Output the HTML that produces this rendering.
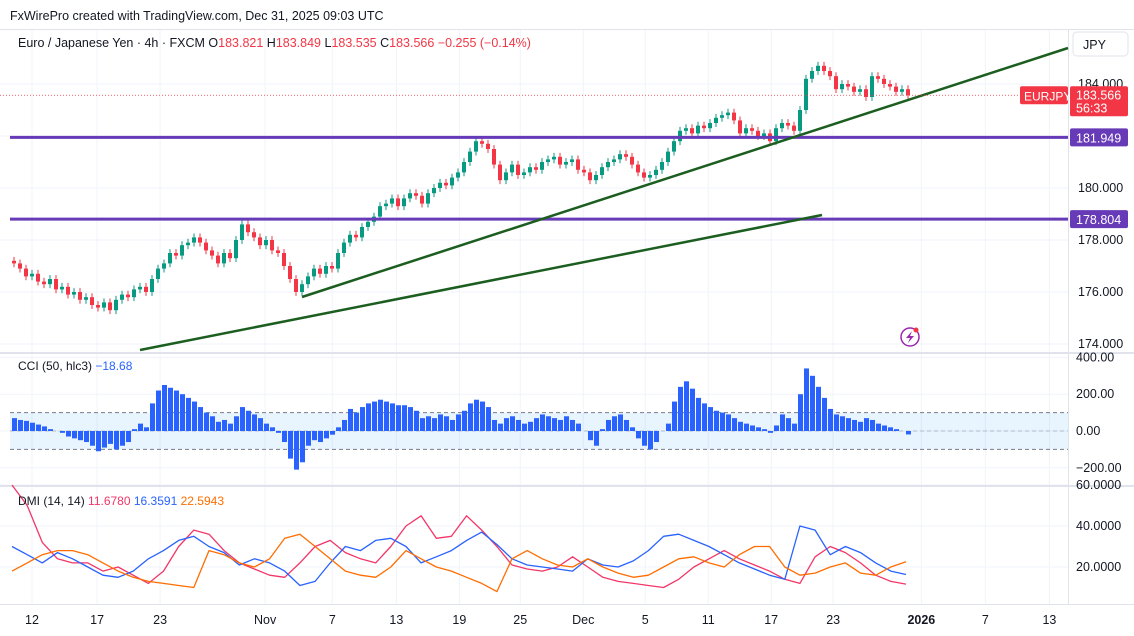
<!DOCTYPE html>
<html><head><meta charset="utf-8"><style>
body{margin:0;background:#fff;font-family:"Liberation Sans",sans-serif}
svg text{font-family:"Liberation Sans",sans-serif}
</style></head><body>
<svg id="c" width="1134" height="631" xmlns="http://www.w3.org/2000/svg">
<rect x="0" y="0" width="1134" height="631" fill="#fff"/>
<text x="10" y="20" font-size="12.5" fill="#131722">FxWirePro created with TradingView.com, Dec 31, 2025 09:03 UTC</text>
<rect x="0" y="29" width="1134" height="1" fill="#e0e3eb"/>
<g id="grid"></g>
<g id="main"></g>
<text x="18" y="47" font-size="12.5" fill="#131722">Euro / Japanese Yen · 4h · FXCM <tspan>O</tspan><tspan fill="#f23645">183.821</tspan> <tspan> H</tspan><tspan fill="#f23645">183.849</tspan> <tspan> L</tspan><tspan fill="#f23645">183.535</tspan> <tspan> C</tspan><tspan fill="#f23645">183.566</tspan><tspan fill="#f23645">  −0.255 (−0.14%)</tspan></text>
<text x="18" y="370" font-size="12" fill="#131722">CCI (50, hlc3) <tspan fill="#2962ff">−18.68</tspan></text>
<text x="18" y="505" font-size="12" fill="#131722">DMI (14, 14) <tspan fill="#f23668">11.6780</tspan> <tspan fill="#2962ff">16.3591</tspan> <tspan fill="#ff6d00">22.5943</tspan></text>
<rect x="1073" y="32" width="55" height="24" rx="4" fill="#fff" stroke="#e0e3eb"/>
<text x="1083" y="49" font-size="12.5" fill="#131722">JPY</text>
<g><circle cx="910" cy="337" r="9" fill="none" stroke="#9c27b0" stroke-width="1.5"/><path d="M912 331 L906 338 L910 338 L908 343 L914 336 L910 336 Z" fill="#9c27b0"/><circle cx="916" cy="330" r="2.5" fill="#f23645"/></g>
</svg>
<script>
const closes=[177.1,176.9,176.6,176.7,176.4,176.3,176.5,176.1,176.2,175.9,176.0,175.7,175.8,175.5,175.4,175.6,175.3,175.7,175.9,175.8,176.1,176.2,176.0,176.5,176.9,177.1,177.5,177.4,177.8,177.9,178.1,177.9,177.6,177.4,177.1,177.5,177.3,178.0,178.6,178.3,178.1,177.8,178.0,177.6,177.5,177.0,176.5,176.0,176.3,176.6,176.9,176.7,177.0,176.9,177.5,177.9,178.2,178.1,178.5,178.7,178.9,179.3,179.4,179.6,179.3,179.6,179.8,179.7,179.4,179.8,180.0,180.2,180.1,180.4,180.6,181.0,181.4,181.8,181.7,181.5,180.9,180.3,180.6,180.9,180.5,180.6,180.8,180.7,181.0,181.1,181.2,180.9,181.0,181.1,180.7,180.6,180.3,180.5,180.8,181.0,181.1,181.3,181.2,180.9,180.6,180.4,180.5,180.7,181.0,181.4,181.8,182.2,182.3,182.1,182.4,182.3,182.5,182.7,182.8,182.9,182.6,182.1,182.3,182.2,182.0,182.1,181.8,182.3,182.5,182.4,182.2,183.0,184.2,184.5,184.7,184.5,184.3,183.8,184.0,183.9,183.7,183.8,183.5,184.3,184.2,184.0,183.9,183.7,183.8,183.566];
const cci=[70,60,55,45,35,25,10,0,-10,-30,-40,-50,-60,-80,-110,-90,-70,-100,-80,-60,10,40,20,150,220,250,235,220,200,180,160,130,100,80,50,60,40,80,130,110,90,70,40,20,-10,-60,-150,-210,-170,-80,-50,-60,-40,-20,20,60,120,100,130,150,160,170,160,150,140,140,130,110,70,80,70,90,80,60,90,110,150,170,160,130,60,40,70,80,60,40,50,70,90,80,70,60,80,60,40,0,-50,-80,10,60,80,90,60,20,-40,-80,-100,-60,0,40,160,240,270,230,180,150,130,110,100,90,70,50,40,30,20,10,-10,30,90,70,40,200,340,300,240,180,120,90,80,70,60,50,70,60,40,30,20,10,0,-18.68];
const diMinus=[60,50,32,24,22,22,18,20,16,12,18,30,38,36,28,22,19,16,15,22,30,33,27,24,22,30,40,45,34,35,45,38,30,21,19,18,20,25,20,15,13,12,11,10,14,20,24,28,24,21,18,14,12,25,30,27,22,16,13,11.678];
const diPlus=[30,26,22,27,24,20,16,15,18,24,28,33,35,30,27,21,24,22,18,11,13,22,30,28,33,34,30,22,25,28,33,37,31,24,21,20,19,18,24,21,20,23,28,35,36,33,30,26,22,19,16,14,40,38,26,30,27,22,18,16.359];
const adx=[18,22,26,28,28,26,22,18,15,13,12,11,10,28,26,22,20,24,34,36,30,24,18,16,15,20,28,24,20,18,15,12,8,24,28,24,21,20,24,20,17,15,16,20,24,25,22,20,26,30,30,20,16,17,20,22,17,16,20,22.594];
const priceTicks=["184.000","180.000","178.000","176.000","174.000"];
const priceTickVals=[184,180,178,176,174];
const cciTicks=["400.00","200.00","0.00","−200.00"];
const cciTickVals=[400,200,0,-200];
const dmiTicks=["60.0000","40.0000","20.0000"];
const dmiTickVals=[60,40,20];
const timeLabels=["12","17","23","Nov","7","13","19","25","Dec","5","11","17","23","2026","7","13"];
const timeDays=[0,6.2,12.2,22.2,28.6,34.7,40.7,46.5,52.5,58.4,64.4,70.4,76.3,84.7,90.8,96.9];

const NS="http://www.w3.org/2000/svg";
const svg=document.getElementById('c');
const main=document.getElementById('main'), grid=document.getElementById('grid');
function el(t,a,p){const e=document.createElementNS(NS,t);for(const k in a)e.setAttribute(k,a[k]);(p||main).appendChild(e);return e;}
const xBar=i=>12+i*6;
const xDay=d=>32+d*10.5;
const yP=p=>84+(184-p)*26;
const yC=v=>431-v*0.184;
const yD=v=>567-(v-20)*2.05;
const RX=1068;

timeDays.forEach(d=>{const g=el('line',{x1:xDay(d),x2:xDay(d),y1:30,y2:605,stroke:'#f0f3fa'},grid);});
priceTickVals.concat([182]).forEach(v=>{el('line',{x1:0,x2:RX,y1:yP(v),y2:yP(v),stroke:'#f0f3fa'},grid);});
cciTickVals.forEach(v=>{el('line',{x1:0,x2:RX,y1:yC(v),y2:yC(v),stroke:'#f0f3fa'},grid);});
dmiTickVals.forEach(v=>{el('line',{x1:0,x2:RX,y1:yD(v),y2:yD(v),stroke:'#f0f3fa'},grid);});
el('rect',{x:0,y:352,width:1134,height:2,fill:'#e0e3eb'},grid);
el('rect',{x:0,y:485,width:1134,height:2,fill:'#e0e3eb'},grid);
el('rect',{x:0,y:604,width:1134,height:1,fill:'#e0e3eb'},grid);
el('rect',{x:RX,y:30,width:1,height:575,fill:'#e0e3eb'},grid);

for(let i=0;i<closes.length;i++){
  const o=i?closes[i-1]:closes[0]+0.1, c=closes[i];
  const up=c>=o, col=up?'#089981':'#f23645';
  const hi=Math.max(o,c)+0.15, lo=Math.min(o,c)-0.15;
  const w=el('line',{x1:xBar(i)+2,x2:xBar(i)+2,y1:yP(hi),y2:yP(lo),stroke:col});
  
  
  const b=el('rect',{x:xBar(i),y:yP(Math.max(o,c)),width:4,height:Math.max(1,Math.abs(yP(o)-yP(c))),fill:col});
  
  
}
[181.949,178.804].forEach(v=>{const l=el('line',{x1:10,x2:RX,y1:yP(v),y2:yP(v),stroke:'#673ab7','stroke-width':3});


el('rect',{x:RX+2,y:yP(v)-9,width:58,height:18,fill:'#673ab7',rx:2});
const t=el('text',{x:RX+8,y:yP(v)+5,'font-size':12.5,fill:'#fff'});t.textContent=v.toFixed(3);

});
const tl1=el('line',{x1:140,y1:350,x2:822,y2:215,stroke:'#1b5e20','stroke-width':2.5});


const tl2=el('line',{x1:302,y1:297,x2:1068,y2:48,stroke:'#1b5e20','stroke-width':2.5});


const last=closes[closes.length-1];
el('line',{x1:0,x2:RX,y1:yP(last),y2:yP(last),stroke:'#f23645','stroke-dasharray':'1 2','stroke-width':0.7});
priceTickVals.forEach((v,i)=>{const t=el('text',{x:1078,y:yP(v)+4,'font-size':12.5,fill:'#131722'});t.textContent=priceTicks[i];

});
el('rect',{x:1020,y:yP(last)-9,width:48,height:18,fill:'#f23645',rx:2});
const sl=el('text',{x:1024,y:yP(last)+5,'font-size':12,fill:'#fff'});sl.textContent='EURJPY';
el('rect',{x:RX+2,y:yP(last)-9,width:58,height:30,fill:'#f23645',rx:2});
const pl=el('text',{x:RX+8,y:yP(last)+4,'font-size':12.5,fill:'#fff'});pl.textContent=last.toFixed(3);


const cd=el('text',{x:RX+8,y:yP(last)+17,'font-size':12.5,fill:'#fff'});cd.textContent='56:33';

el('rect',{x:10,y:yC(100),width:RX-10,height:yC(-100)-yC(100),fill:'#2196f3','fill-opacity':0.1});
[100,-100].forEach(v=>el('line',{x1:10,x2:RX,y1:yC(v),y2:yC(v),stroke:'#787b86','stroke-dasharray':'4 3'}));
el('line',{x1:10,x2:RX,y1:yC(0),y2:yC(0),stroke:'#787b86','stroke-opacity':0.4,'stroke-dasharray':'4 3'});
for(let i=0;i<cci.length;i++){
  const v=cci[i];const b=el('rect',{x:xBar(i),y:Math.min(yC(v),yC(0)),width:5,height:Math.abs(yC(v)-yC(0)),fill:'#2962ff'});
  
  
}
cciTickVals.forEach((v,i)=>{const t=el('text',{x:1076,y:yC(v)+4,'font-size':12.5,fill:'#131722'});t.textContent=cciTicks[i];

});

const xD=i=>12+i*(894/59);
[[diMinus,'#f23668','di-minus-line'],[diPlus,'#2962ff','di-plus-line'],[adx,'#ff6d00','adx-line']].forEach(([arr,col,name])=>{
  const d=arr.map((v,i)=>(i?'L':'M')+xD(i).toFixed(1)+' '+yD(v).toFixed(1)).join(' ');
  const p=el('path',{d:d,fill:'none',stroke:col,'stroke-width':1.3,'stroke-linejoin':'round'});
  
  
});
dmiTickVals.forEach((v,i)=>{const t=el('text',{x:1076,y:yD(v)+4,'font-size':12.5,fill:'#131722'});t.textContent=dmiTicks[i];

});

timeLabels.forEach((s,i)=>{const t=el('text',{x:xDay(timeDays[i]),y:624,'font-size':12.5,fill:'#131722','text-anchor':'middle','font-weight':s==='2026'?'bold':'normal'});t.textContent=s;

});
</script>
</body></html>
